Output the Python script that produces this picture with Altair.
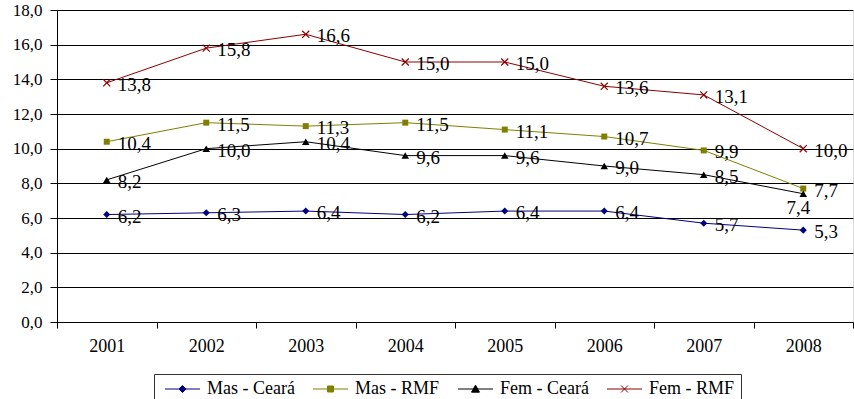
import altair as alt
import pandas as pd

years = ["2001", "2002", "2003", "2004", "2005", "2006", "2007", "2008"]
series_names = ["Mas - Ceará", "Mas - RMF", "Fem - Ceará", "Fem - RMF"]
mas_ceara = [6.2, 6.3, 6.4, 6.2, 6.4, 6.4, 5.7, 5.3]
mas_rmf = [10.4, 11.5, 11.3, 11.5, 11.1, 10.7, 9.9, 7.7]
fem_ceara = [8.2, 10.0, 10.4, 9.6, 9.6, 9.0, 8.5, 7.4]
fem_rmf = [13.8, 15.8, 16.6, 15.0, 15.0, 13.6, 13.1, 10.0]
colors = ["#000080", "#808000", "#000000", "#8B0000"]
y_ticks = [0, 2, 4, 6, 8, 10, 12, 14, 16, 18]

rows = []
for name, vals in zip(series_names, [mas_ceara, mas_rmf, fem_ceara, fem_rmf]):
    for yr, v in zip(years, vals):
        rows.append({"year": yr, "series": name, "value": v})
df = pd.DataFrame(rows)

FONT = "Liberation Serif"

x_enc = alt.X(
    "year:O",
    sort=years,
    scale=alt.Scale(type="band", paddingInner=0, paddingOuter=0),
    axis=alt.Axis(
        title=None, labelAngle=0, tickBand="extent", grid=False,
        domainColor="#000000", tickColor="#000000", tickSize=6,
        labelFont=FONT, labelFontSize=18, labelColor="#000000", labelPadding=9,
    ),
)
y_enc = alt.Y(
    "value:Q",
    scale=alt.Scale(domain=[0, 18], nice=False, zero=True),
    axis=alt.Axis(
        title=None, values=y_ticks, grid=True, gridColor="#000000", gridWidth=1,
        domainColor="#000000", tickColor="#000000", tickSize=7,
        labelFont=FONT, labelFontSize=17, labelColor="#000000", labelPadding=8,
        labelExpr="replace(format(datum.value, '.1f'), '.', ',')",
    ),
)

base = alt.Chart(df)

marker_specs = [
    dict(shape="diamond", filled=True, size=50, strokeWidth=0),
    dict(shape="square", filled=True, size=36, strokeWidth=0),
    dict(shape="triangle-up", filled=True, size=56, strokeWidth=0),
    dict(shape="M-1,-1L1,1M-1,1L1,-1", filled=False, size=50, strokeWidth=1.2),
]
series_layers = []
for name, col, spec in zip(series_names, colors, marker_specs):
    sub = base.transform_filter(alt.datum.series == name)
    series_layers.append(sub.mark_line(color=col, strokeWidth=1).encode(x=x_enc, y=y_enc))
    series_layers.append(sub.mark_point(color=col, opacity=1, **spec).encode(x=x_enc, y=y_enc))

labels_main = (
    base.transform_filter("!(datum.series == 'Fem - Ceará' && datum.year == '2008')")
    .transform_calculate(label="replace(format(datum.value, '.1f'), '.', ',')")
    .mark_text(align="left", baseline="middle", dx=11, dy=2, font=FONT, fontSize=19, color="#000000")
    .encode(x=x_enc, y=y_enc, text="label:N")
)
labels_special = (
    base.transform_filter("datum.series == 'Fem - Ceará' && datum.year == '2008'")
    .transform_calculate(label="replace(format(datum.value, '.1f'), '.', ',')")
    .mark_text(align="center", baseline="middle", dx=-5, dy=14, font=FONT, fontSize=19, color="#000000")
    .encode(x=x_enc, y=y_enc, text="label:N")
)

# legend symbols: a short line with the marker drawn as nested outlines (looks filled)
CX = 1.93
line_part = "M-0.57,0H4.43"


def f(v):
    return f"{v:.3f}"


diamond = "".join(
    f"M{f(CX)},{f(-r)}L{f(CX + r)},0L{f(CX)},{f(r)}L{f(CX - r)},0Z" for r in [0.5, 0.38, 0.26, 0.14, 0.04]
)
square = "".join(
    f"M{f(CX - h)},{f(-h)}H{f(CX + h)}V{f(h)}H{f(CX - h)}Z" for h in [0.43, 0.31, 0.19, 0.08]
)
cy = 0.117
triangle = "".join(
    f"M{f(CX)},{f(cy + k * (-0.55 - cy))}L{f(CX + k * 0.57)},{f(cy + k * (0.45 - cy))}"
    f"L{f(CX - k * 0.57)},{f(cy + k * (0.45 - cy))}Z"
    for k in [1.0, 0.75, 0.5, 0.25, 0.06]
)
xmark = f"M{f(CX - 0.5)},-0.5L{f(CX + 0.5)},0.5M{f(CX - 0.5)},0.5L{f(CX + 0.5)},-0.5"
legend_paths = [line_part + diamond, line_part + square, line_part + triangle, line_part + xmark]

leg = alt.Legend(
    title=None, orient="none", legendX=97, legendY=364, direction="horizontal",
    columns=4, strokeColor="#333333", fillColor="#ffffff", padding=6,
    symbolSize=196, symbolStrokeWidth=1, symbolOpacity=1, labelOffset=29, columnPadding=13,
    labelFont=FONT, labelFontSize=18, labelColor="#000000",
)

legend_layer = (
    base.mark_point(filled=True, opacity=0)
    .encode(
        x=x_enc, y=y_enc,
        fill=alt.Fill("series:N", scale=alt.Scale(domain=series_names, range=colors), legend=leg),
        stroke=alt.Stroke("series:N", scale=alt.Scale(domain=series_names, range=colors), legend=leg),
        shape=alt.Shape("series:N", scale=alt.Scale(domain=series_names, range=legend_paths), legend=leg),
    )
)

chart = (
    alt.layer(*series_layers, labels_main, labels_special, legend_layer)
    .properties(
        width=796, height=312,
        autosize=alt.AutoSizeParams(type="none"),
        padding={"left": 57, "top": 10, "right": 1, "bottom": 77},
    )
    .configure_view(stroke="#808080", strokeWidth=1)
    .configure_legend(labelFont=FONT, labelFontSize=18, labelColor="#000000")
    .configure(font=FONT)
)

chart.save("out.html", embed_options={"renderer": "svg", "actions": False})
